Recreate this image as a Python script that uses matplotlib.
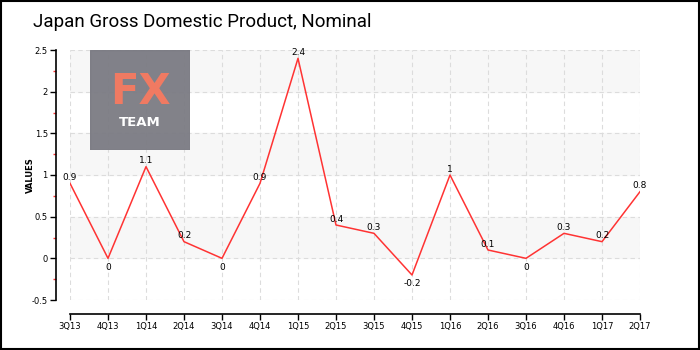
import matplotlib
matplotlib.use("Agg")
import matplotlib.pyplot as plt
from matplotlib.patches import Rectangle
from matplotlib.ticker import MultipleLocator

quarters = ["3Q13", "4Q13", "1Q14", "2Q14", "3Q14", "4Q14", "1Q15", "2Q15",
            "3Q15", "4Q15", "1Q16", "2Q16", "3Q16", "4Q16", "1Q17", "2Q17"]
values = [0.9, 0, 1.1, 0.2, 0, 0.9, 2.4, 0.4, 0.3, -0.2, 1, 0.1, 0, 0.3, 0.2, 0.8]

W, H = 700, 350
fig = plt.figure(figsize=(7, 3.5), dpi=100)
fig.patch.set_facecolor("white")

# plot area in pixels: x 70..640, y 50..300
ax = fig.add_axes([70 / W, 50 / H, 570 / W, 250 / H])
ax.set_facecolor("none")
x = list(range(len(quarters)))
ax.set_xlim(0, len(quarters) - 1)
ax.set_ylim(-0.5, 2.5)

# alternating bands
for lo in [0, 1, 2]:
    ax.axhspan(lo, lo + 0.5, color="#f7f7f7", zorder=0)

ax.grid(True, which="major", color="#dcdcdc", linestyle=(0, (4, 3)), linewidth=0.8)
ax.set_axisbelow(True)

ax.plot(x, values, color="#ff3333", linewidth=1.1, zorder=3)
for xi, v in zip(x, values):
    if v <= 0 and xi != 0:
        ax.annotate(f"{v:g}", (xi, v), xytext=(0, -3), textcoords="offset points",
                    ha="center", va="top", fontsize=6.5, zorder=4)
    else:
        ax.annotate(f"{v:g}", (xi, v), xytext=(0, 1), textcoords="offset points",
                    ha="center", va="bottom", fontsize=6.5, zorder=4)

ax.set_xticks(x)
ax.set_xticklabels(quarters)
ax.yaxis.set_major_locator(MultipleLocator(0.5))
ax.yaxis.set_minor_locator(MultipleLocator(0.25))
ax.yaxis.set_major_formatter(lambda t, pos: f"{t:g}")
ax.tick_params(axis="both", which="major", labelsize=6)
ax.tick_params(axis="y", which="major", length=4, width=1, color="black", pad=2)
ax.tick_params(axis="y", which="minor", length=2, width=1, color="#ff3333")
ax.tick_params(axis="x", which="major", length=4, width=1, color="black", pad=2)

for s in ["top", "right"]:
    ax.spines[s].set_visible(False)
ax.spines["left"].set_position(("outward", 10))
ax.spines["bottom"].set_position(("outward", 10))
ax.spines["left"].set_linewidth(1.2)
ax.spines["bottom"].set_linewidth(1.2)

ax.set_ylabel("VALUES", fontsize=6, fontweight="bold")
ax.yaxis.set_label_coords(-0.061, 0.5)

# FX TEAM logo
lx = fig.add_axes([90 / W, 200 / H, 100 / W, 100 / H])
lx.set_xlim(0, 1)
lx.set_ylim(0, 1)
lx.axis("off")
lx.add_patch(Rectangle((0, 0), 1, 1, color="#7b7b83", alpha=0.95))
lx.text(0.5, 0.58, "FX", color="#f07a62", fontsize=30, ha="center", va="center",
        fontweight="bold")
lx.text(0.5, 0.28, "TEAM", color="white", fontsize=9.5, ha="center", va="center",
        fontweight="bold")

fig.text(33 / W, 1 - 22 / H, "Japan Gross Domestic Product, Nominal",
         fontsize=13.5, ha="left", va="center",
         family=["Roboto", "DejaVu Sans"])

fig.patches.append(Rectangle((0.001, 0.003), 0.997, 0.995, transform=fig.transFigure,
                             fill=False, edgecolor="black", linewidth=1.5))

fig.savefig("out.png", dpi=100)
